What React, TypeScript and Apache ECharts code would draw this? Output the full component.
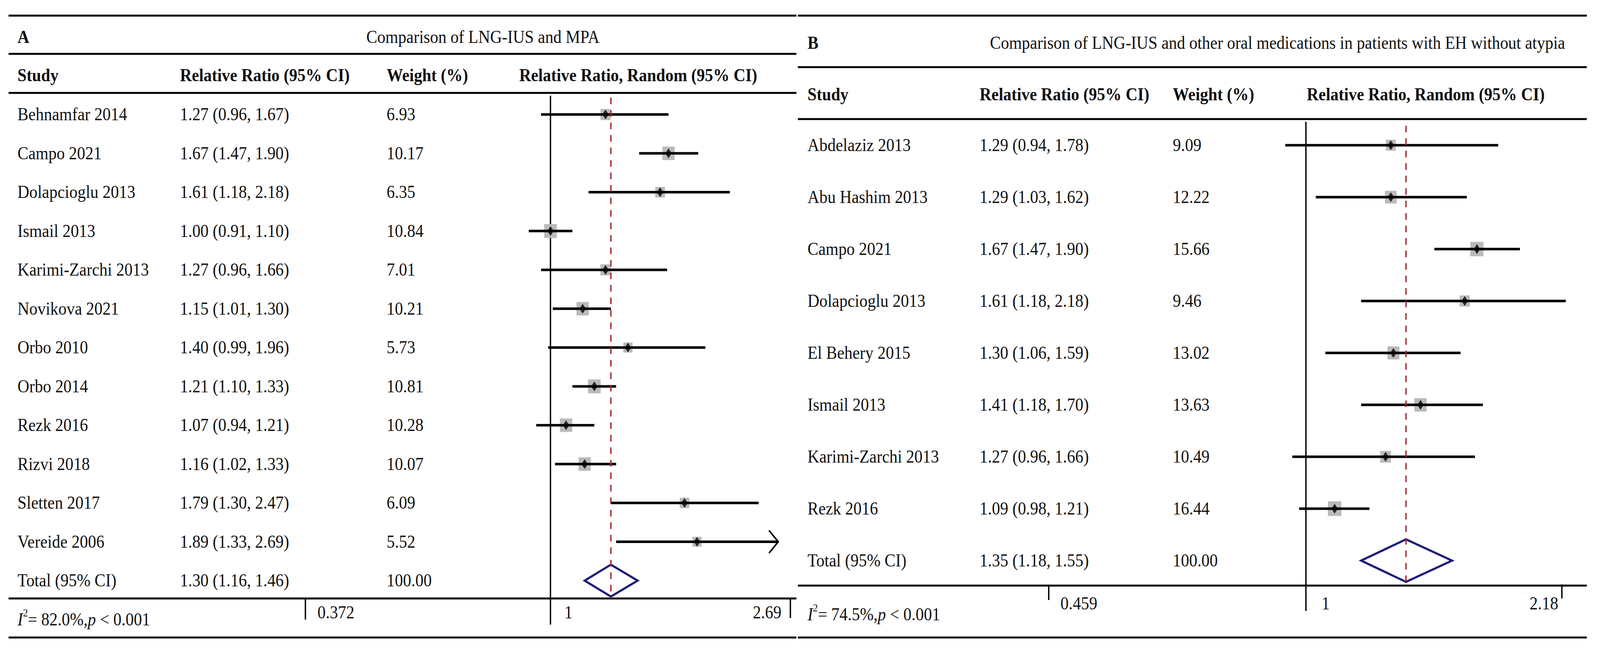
import React, { useEffect, useRef } from "react";
import * as echarts from "echarts";

// ---------------- Panel A data ----------------
const studiesA = [
  "Behnamfar 2014", "Campo 2021", "Dolapcioglu 2013", "Ismail 2013", "Karimi-Zarchi 2013",
  "Novikova 2021", "Orbo 2010", "Orbo 2014", "Rezk 2016", "Rizvi 2018", "Sletten 2017", "Vereide 2006",
];
const rrA = [1.27, 1.67, 1.61, 1.0, 1.27, 1.15, 1.4, 1.21, 1.07, 1.16, 1.79, 1.89];
const loA = [0.96, 1.47, 1.18, 0.91, 0.96, 1.01, 0.99, 1.1, 0.94, 1.02, 1.3, 1.33];
const hiA = [1.67, 1.9, 2.18, 1.1, 1.66, 1.3, 1.96, 1.33, 1.21, 1.33, 2.47, 2.69];
const weightA = [6.93, 10.17, 6.35, 10.84, 7.01, 10.21, 5.73, 10.81, 10.28, 10.07, 6.09, 5.52];
const arrowA = [false, false, false, false, false, false, false, false, false, false, false, true];
const totalA = [1.3, 1.16, 1.46];
const totalWeightA = 100.0;
const i2A = "82.0%";
const pA = "0.001";
const tickValuesA = [0.372, 1, 2.69];
const tickLabelsA = ["0.372", "1", "2.69"];

// ---------------- Panel B data ----------------
const studiesB = [
  "Abdelaziz 2013", "Abu Hashim 2013", "Campo 2021", "Dolapcioglu 2013",
  "El Behery 2015", "Ismail 2013", "Karimi-Zarchi 2013", "Rezk 2016",
];
const rrB = [1.29, 1.29, 1.67, 1.61, 1.3, 1.41, 1.27, 1.09];
const loB = [0.94, 1.03, 1.47, 1.18, 1.06, 1.18, 0.96, 0.98];
const hiB = [1.78, 1.62, 1.9, 2.18, 1.59, 1.7, 1.66, 1.21];
const weightB = [9.09, 12.22, 15.66, 9.46, 13.02, 13.63, 10.49, 16.44];
const arrowB = [false, false, false, false, false, false, false, false];
const totalB = [1.35, 1.18, 1.55];
const totalWeightB = 100.0;
const i2B = "74.5%";
const pB = "0.001";
const tickValuesB = [0.459, 1, 2.18];
const tickLabelsB = ["0.459", "1", "2.18"];

const headers = ["Study", "Relative Ratio (95% CI)", "Weight (%)"];
const plotHeader = "Relative Ratio, Random (95% CI)";
const totalLabel = "Total (95% CI)";

// ---------------- layout / style (reference pixel frame 4490 x 1665) ----------------
const REF_W = 4490;
const REF_H = 1665;
const FONT = "'Liberation Serif', 'Times New Roman', Times, serif";
const FS = 46;

const panels = [
  {
    label: "A",
    title: "Comparison of LNG-IUS and MPA",
    studies: studiesA, rr: rrA, lo: loA, hi: hiA, w: weightA, arrow: arrowA,
    total: totalA, totalW: totalWeightA, i2: i2A, p: pA,
    ticks: tickValuesA, tickLabels: tickLabelsA,
    L: {
      left: 24, right: 2235, hLines: [40, 138, 238, 1533, 1633],
      titleY: 95, headY: 193, labelX: 49, titleX: 1028,
      colX: [49, 505, 1085], plotHeadX: 1791,
      gridLeft: 906, gridWidth: 1278, gridTop: 243.5, rowH: 99.5,
      i2: [49, 1583], tickLabelY: 1569,
      refTop: 245, refBottom: 1600, dashTop: 250, dashBottom: 1533,
      tickL: [1533, 1587], tickR: [1533, 1583], tickOff: [-49, 34], labelOff: [34, 39, -25],
      boxK: 10.8,
    },
  },
  {
    label: "B",
    title: "Comparison of LNG-IUS and other oral medications in patients with EH without atypia",
    studies: studiesB, rr: rrB, lo: loB, hi: hiB, w: weightB, arrow: arrowB,
    total: totalB, totalW: totalWeightB, i2: i2B, p: pB,
    ticks: tickValuesB, tickLabels: tickLabelsB,
    L: {
      left: 2239, right: 4453, hLines: [40, 172, 305, 1500, 1633],
      titleY: 110, headY: 242, labelX: 2266, titleX: 2778,
      colX: [2266, 2749, 3291], plotHeadX: 4001,
      gridLeft: 2936, gridWidth: 1458, gridTop: 305.5, rowH: 133,
      i2: [2266, 1570], tickLabelY: 1546,
      refTop: 312, refBottom: 1565, dashTop: 322, dashBottom: 1500,
      tickL: [1500, 1537], tickR: [1497, 1533], tickOff: [7, -11], labelOff: [33, 44, -10],
      boxK: 9.3,
    },
  },
];

function fmtCI(rr: number, lo: number, hi: number) {
  return `${rr.toFixed(2)} (${lo.toFixed(2)}, ${hi.toFixed(2)})`;
}

function buildOption(sx: number, sy: number) {
  const grid: any[] = [];
  const xAxis: any[] = [];
  const yAxis: any[] = [];
  const series: any[] = [];
  panels.forEach((P, k) => {
    const L = P.L;
    const rows = [...P.studies, totalLabel];
    grid.push({
      left: L.gridLeft * sx, top: L.gridTop * sy, width: L.gridWidth * sx, height: L.rowH * rows.length * sy,
      containLabel: false, outerBoundsMode: "none", show: false,
    });
    xAxis.push({
      type: "log", gridIndex: k, min: P.ticks[0], max: P.ticks[2], show: false,
      splitLine: { show: false },
    });
    yAxis.push({
      type: "category", gridIndex: k, data: rows, inverse: true, show: false,
      splitLine: { show: false },
    });
    // weight boxes (area proportional to weight)
    series.push({
      type: "scatter", xAxisIndex: k, yAxisIndex: k, z: 2, silent: true, clip: false,
      symbol: "rect",
      symbolSize: (v: number[]) => [L.boxK * Math.sqrt(v[2]) * sx, L.boxK * Math.sqrt(v[2]) * sy],
      itemStyle: { color: "#bababa", opacity: 1 },
      data: P.studies.map((_, i) => [P.rr[i], i, P.w[i]]),
    });
    // confidence intervals
    series.push({
      type: "custom", xAxisIndex: k, yAxisIndex: k, z: 3, silent: true, clip: false,
      encode: { x: [0, 1], y: 2 },
      data: P.studies.map((_, i) => [P.lo[i], P.hi[i], i, P.arrow[i] ? 1 : 0]),
      renderItem: (params: any, api: any) => {
        const a = api.coord([api.value(0), api.value(2)]);
        const b = api.coord([api.value(1), api.value(2)]);
        const children: any[] = [
          { type: "line", shape: { x1: a[0], y1: a[1], x2: b[0], y2: b[1] }, style: { stroke: "#000", lineWidth: 6.5 } },
        ];
        if (api.value(3)) {
          children.push({
            type: "polyline",
            shape: { points: [[b[0] - 26 * sx, b[1] - 29 * sy], [b[0], b[1]], [b[0] - 26 * sx, b[1] + 29 * sy]] },
            style: { stroke: "#000", fill: "none", lineWidth: 4 },
          });
        }
        return { type: "group", children };
      },
    });
    // point estimates
    series.push({
      type: "scatter", xAxisIndex: k, yAxisIndex: k, z: 4, silent: true, clip: false,
      symbol: "diamond", symbolSize: [18 * sx, 25 * sy],
      itemStyle: { color: "#000" },
      data: P.studies.map((_, i) => [P.rr[i], i]),
    });
    // pooled diamond
    series.push({
      type: "custom", xAxisIndex: k, yAxisIndex: k, z: 5, silent: true, clip: false,
      encode: { x: [0, 1, 2], y: 3 },
      data: [[P.total[1], P.total[0], P.total[2], P.studies.length]],
      renderItem: (params: any, api: any) => {
        const idx = api.value(3);
        const pl = api.coord([api.value(0), idx]);
        const pc = api.coord([api.value(1), idx]);
        const pr = api.coord([api.value(2), idx]);
        const band = api.size([0, 1], [api.value(1), idx])[1];
        const h = band * 0.41;
        return {
          type: "polygon",
          shape: { points: [[pl[0], pl[1]], [pc[0], pc[1] - h], [pr[0], pr[1]], [pc[0], pc[1] + h]] },
          style: { stroke: "#1c1c7a", fill: "none", lineWidth: 5.5, lineJoin: "miter" },
        };
      },
    });
  });
  return { animation: false, backgroundColor: "#ffffff", grid, xAxis, yAxis, series };
}

function buildGraphics(chart: any, sx: number, sy: number) {
  const sxr = sx / sy;
  const txt = (x: number, y: number, text: string, bold = false, align = "left") => ({
    type: "text", x, y, scaleX: sxr, scaleY: 1, silent: true, z: 10,
    style: {
      text, fill: "#111", fontFamily: FONT, fontSize: FS * sy, fontWeight: bold ? "bold" : "normal",
      textAlign: align, textVerticalAlign: "middle", align, verticalAlign: "middle",
    },
  });
  const ln = (x1: number, y1: number, x2: number, y2: number, w = 5, stroke = "#000", dash?: number[], z = 1) => ({
    type: "line", silent: true, z,
    shape: { x1, y1, x2, y2 },
    style: { stroke, lineWidth: w, lineDash: dash },
  });
  const els: any[] = [];
  panels.forEach((P, k) => {
    const L = P.L;
    L.hLines.forEach((y) => els.push(ln(L.left * sx, y * sy, L.right * sx, y * sy, 5)));
    els.push(txt(L.labelX * sx, L.titleY * sy, P.label, true));
    els.push(txt(L.titleX * sx, L.titleY * sy, P.title));
    headers.forEach((h, j) => els.push(txt(L.colX[j] * sx, L.headY * sy, h, true)));
    els.push(txt(L.plotHeadX * sx, L.headY * sy, plotHeader, true, "center"));
    const n = P.studies.length;
    for (let i = 0; i <= n; i++) {
      const y = chart.convertToPixel({ yAxisIndex: k }, i);
      const isTot = i === n;
      const name = isTot ? totalLabel : P.studies[i];
      const rr = isTot ? P.total[0] : P.rr[i];
      const lo = isTot ? P.total[1] : P.lo[i];
      const hi = isTot ? P.total[2] : P.hi[i];
      const w = isTot ? P.totalW : P.w[i];
      els.push(txt(L.colX[0] * sx, y, name));
      els.push(txt(L.colX[1] * sx, y, fmtCI(rr, lo, hi)));
      els.push(txt(L.colX[2] * sx, y, w.toFixed(2)));
    }
    const px = (v: number) => chart.convertToPixel({ xAxisIndex: k }, v);
    const xMin = px(P.ticks[0]);
    const x1 = px(P.ticks[1]);
    const xMax = px(P.ticks[2]);
    const xTot = px(P.total[0]);
    els.push(ln(x1, L.refTop * sy, x1, L.refBottom * sy, 3.5));
    els.push(ln(xTot, L.dashTop * sy, xTot, L.dashBottom * sy, 3.5, "#a8282e", [17, 15], 6));
    const tL = xMin + L.tickOff[0] * sx;
    const tR = xMax + L.tickOff[1] * sx;
    els.push(ln(tL, L.tickL[0] * sy, tL, L.tickL[1] * sy, 3.5));
    els.push(ln(tR, L.tickR[0] * sy, tR, L.tickR[1] * sy, 3.5));
    els.push(txt(tL + L.labelOff[0] * sx, L.tickLabelY * sy, P.tickLabels[0]));
    els.push(txt(x1 + L.labelOff[1] * sx, L.tickLabelY * sy, P.tickLabels[1]));
    els.push(txt(tR + L.labelOff[2] * sx, L.tickLabelY * sy, P.tickLabels[2], false, "right"));
    const fsz = FS * sy;
    const base = { fontFamily: FONT, fill: "#111", lineHeight: 54 * sy, verticalAlign: "bottom" };
    els.push({
      type: "text", x: L.i2[0] * sx, y: L.i2[1] * sy, scaleX: sxr, scaleY: 1, silent: true, z: 10,
      style: {
        text: `{i|I}{s|2}{n|= ${P.i2},}{i|p}{n| < ${P.p}}`,
        textAlign: "left", textVerticalAlign: "middle", align: "left", verticalAlign: "middle",
        fontFamily: FONT, fontSize: fsz, fill: "#111",
        rich: {
          i: { ...base, fontSize: fsz, fontStyle: "italic" },
          n: { ...base, fontSize: fsz },
          s: { fontFamily: FONT, fill: "#111", fontSize: 28 * sy, lineHeight: 54 * sy, verticalAlign: "top" },
        },
      },
    });
  });
  return els;
}

export default function App() {
  const ref = useRef<HTMLDivElement>(null);
  useEffect(() => {
    if (!ref.current) return;
    const chart = echarts.init(ref.current, null, { renderer: "svg" });
    const sx = chart.getWidth() / REF_W;
    const sy = chart.getHeight() / REF_H;
    chart.setOption(buildOption(sx, sy) as any);
    chart.setOption({ graphic: { elements: buildGraphics(chart, sx, sy) } } as any);
    return () => chart.dispose();
  }, []);
  return (
    <div
      ref={ref}
      style={{ position: "absolute", left: 0, top: 0, width: "100vw", height: "100vh", background: "#fff" }}
    />
  );
}
